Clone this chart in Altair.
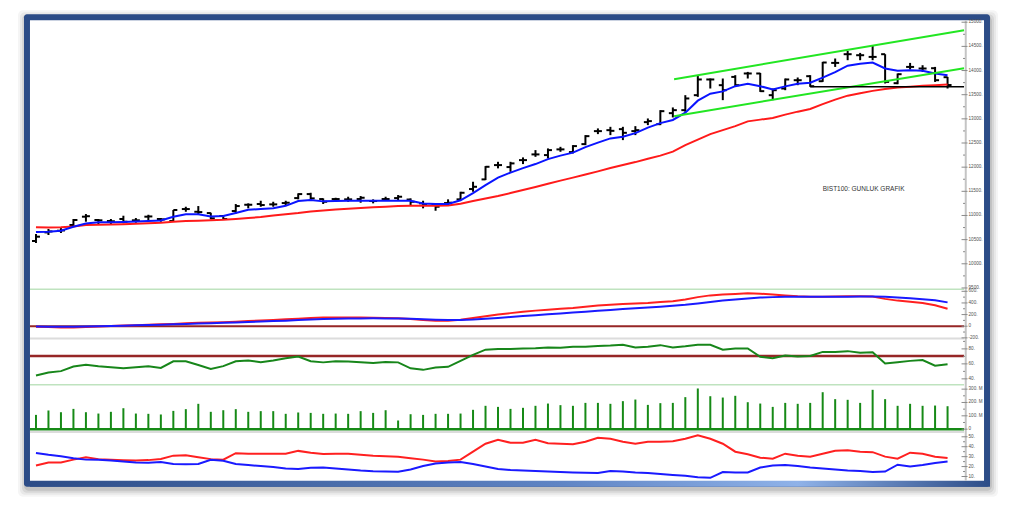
import altair as alt
import pandas as pd

# ---------------- data ----------------
N = 74
idx = list(range(N))

open_ = [10472,10650,10685,10803,10975,10906,10885,10927,10900,10975,
         10927,10885,11133,11077,11050,10989,11092,11222,11237,11230,
         11257,11360,11443,11340,11340,11334,11340,11299,11340,11360,
         11330,11251,11216,11257,11334,11547,11747,12043,12002,12146,
         12264,12250,12368,12312,12477,12746,12766,12787,12746,12932,
         12890,13118,13180,13490,13815,13697,13868,13939,13939,13490,
         13628,13800,13883,13779,14158,14338,14317,14282,14338,13738,
         14075,14042,14048,13862]
high = [10616,10720,10740,10927,11030,10927,10927,10995,10947,11015,
        10947,11113,11181,11195,11057,11009,11237,11251,11305,11284,
        11305,11458,11470,11354,11367,11388,11402,11334,11388,11423,
        11354,11305,11251,11334,11491,11698,12022,12111,12111,12202,
        12353,12388,12421,12456,12663,12802,12835,12835,12849,13008,
        13180,13236,13490,13904,13835,13835,13904,13972,13951,13628,
        13835,13856,13904,14179,14249,14406,14365,14524,14338,13939,
        14158,14110,14075,13868]
low = [10430,10596,10637,10761,10871,10803,10817,10838,10850,10891,
       10871,10871,11077,11009,10920,10920,11044,11148,11181,11181,
       11216,11334,11319,11237,11305,11284,11264,11251,11305,11319,
       11216,11148,11098,11216,11319,11491,11733,11975,11904,12064,
       12214,12181,12318,12285,12456,12684,12663,12560,12663,12870,
       12870,13029,13145,13455,13628,13387,13662,13835,13558,13387,
       13593,13697,13662,13765,14075,14214,14214,14214,13732,13717,
       14021,13972,13765,13628]
close = [10561,10670,10690,10906,10985,10900,10880,10871,10900,10980,
         10920,11113,11133,11070,10941,10927,11195,11222,11216,11230,
         11264,11443,11354,11284,11340,11334,11367,11299,11340,11388,
         11284,11216,11181,11264,11470,11594,12008,12043,12078,12146,
         12264,12353,12368,12436,12642,12746,12752,12711,12766,12953,
         13159,13180,13422,13815,13815,13593,13697,13939,13573,13593,
         13815,13800,13676,14166,14158,14338,14317,14282,13765,13924,
         14075,14042,13800,13700]
ma_fast = [10658,10664,10685,10767,10833,10858,10858,10864,10875,10885,
           10895,10974,11024,11024,10978,10989,11050,11119,11133,11148,
           11200,11299,11319,11292,11299,11303,11305,11305,11305,11305,
           11305,11247,11237,11237,11315,11464,11629,11784,11888,11981,
           12064,12167,12239,12301,12415,12508,12595,12628,12704,12818,
           12911,12977,13128,13376,13521,13569,13676,13728,13676,13608,
           13672,13728,13749,13852,13966,14100,14141,14166,14042,13997,
           14007,13997,13939,13904]
ma_slow = [10755,10749,10757,10771,10802,10808,10813,10819,10829,10840,
           10850,10869,10885,10893,10900,10910,10926,10947,10968,10999,
           11024,11050,11082,11102,11123,11137,11154,11168,11181,11195,
           11201,11201,11201,11206,11245,11299,11352,11402,11464,11526,
           11588,11656,11722,11784,11847,11913,11981,12043,12105,12175,
           12239,12322,12456,12570,12684,12767,12849,12948,12984,13019,
           13087,13149,13205,13304,13397,13480,13531,13579,13618,13647,
           13666,13684,13697,13709]
macd_red = [-7,-15,-20,-20,-15,-5,5,12,18,25,
            32,40,50,58,63,70,78,88,98,108,
            118,130,142,150,152,150,148,145,140,135,
            125,108,95,95,110,140,170,200,225,250,
            268,285,300,315,335,355,370,380,390,400,
            415,430,460,500,530,545,555,565,560,545,
            530,515,505,505,510,515,515,510,470,440,
            420,400,360,300]
macd_blue = [-5,-8,-10,-8,-5,0,5,10,15,20,
             25,32,40,46,52,58,65,72,80,88,
             96,105,115,122,128,132,134,135,134,132,
             128,120,112,108,108,115,128,142,158,175,
             190,205,220,235,250,265,280,295,310,322,
             335,350,368,392,418,440,460,478,492,500,
             505,508,508,508,508,508,510,510,505,495,
             480,465,445,410]
rsi = [44.4,48.5,50.3,56.4,58.7,56.8,55.5,54.3,55.5,56.9,
       54.5,63.5,63.6,58.5,53.3,57,63.5,64.4,62.3,64.5,
       67.6,69.7,63.6,62,63.5,63,62,61,62.5,62,
       54,52,55,56,64,72,79,80,80,80.5,
       81,82,81.5,83,83,84,84.5,85.5,82,83,
       85,82,83.5,85.5,85.5,79,80.5,80.5,69.5,67.5,
       71,70,70.5,76,76,77,75,75.5,60.5,62.3,
       64,65,57.5,59.5]
volume_m = [107,140,127,152,127,117,130,157,117,115,
            110,137,150,190,130,142,150,130,135,135,
            115,125,122,115,117,115,135,122,142,65,
            112,107,115,115,117,145,175,167,152,160,
            175,192,180,175,197,197,190,210,222,182,
            195,197,240,305,247,237,250,202,192,167,
            197,190,197,277,225,220,197,295,225,175,
            190,175,177,172]
dmi_plus = [21,24,24.2,27,29.3,27.5,26.8,26.3,26,26.5,
            27.6,31,31.5,29.5,27.5,27,33.5,33,32.9,32.9,
            32.9,35.8,34,32.6,33,33,32,31,30.5,30,
            28.5,27,25,25.5,27,35,43,47,44,44,
            47,43.5,43,42.5,45,49,48,45,43,45,
            45,45.5,48,51.5,48,43,35,32.5,29,28,
            33,31,30,33,36,36.5,35,34.5,30,28,
            34,33,30,28.6]
dmi_minus = [33.6,31.8,30.3,28.5,27,26.9,26,25,24,23.8,
             24.6,22.5,22.3,22.6,26.9,25.9,22.6,21.5,20.5,19.5,
             18.1,17.5,18.7,19,18,17,16,15.3,15,14.8,
             17,20.5,23,24,24.5,22.5,20,17.5,16.5,16,
             15.5,15,14.5,14,13.7,13.6,15.5,15,14,13.5,
             12.5,11.5,10.7,9.2,8.7,14.5,14,14,19,21,
             21.5,20.5,19,18,17,16,15.5,14.5,15,21.9,
             20.2,21.5,23.5,25.2]

# trend channel (bar index, price) and support level
chan_upper_x = [51.1, 74.32]
chan_upper_y = [13821, 14834]
chan_lower_x = [51.1, 74.32]
chan_lower_y = [13056, 14048]
support_x = [62.0, 74.32]
support_y = [13662, 13662]
rsi_level = 70.5
macd_level = 0

# axis ticks
price_major = [9500,10000,10500,11000,11500,12000,12500,13000,13500,14000,14500,15000]
price_minor = [9750,10250,10750,11250,11750,12250,12750,13250,13750,14250,14750]
macd_major = [-200,0,200,400,600]
macd_minor = [-100,100,300,500]
rsi_major = [40,60,80]
rsi_minor = [50,70,90]
vol_major = [0,100,200,300]
vol_labels = ["0","100. M","200. M","300. M"]
vol_minor = [50,150,250]
dmi_major = [10,20,30,40,50]
dmi_minor = [15,25,35,45]

title_text = "BIST100: GUNLUK GRAFIK"

# ---------------- scales ----------------
XS = alt.Scale(domain=[-0.48, 74.32], range=[22, 957], nice=False, zero=False)
S_PRICE = alt.Scale(domain=[9479, 15041], range=[281, 12], nice=False, zero=False)
S_MACD = alt.Scale(domain=[-201, 623], range=[330, 282], nice=False, zero=False)
S_RSI = alt.Scale(domain=[33.3, 93.3], range=[376, 331], nice=False, zero=False)
S_VOL = alt.Scale(domain=[-20, 332], range=[424, 377], nice=False, zero=False)
S_DMI = alt.Scale(domain=[6.7, 55.0], range=[472, 424], nice=False, zero=False)

def X(f):
    return alt.X(f + ':Q', scale=XS, axis=None)

def Y(f, s):
    return alt.Y(f + ':Q', scale=s, axis=None)

one = pd.DataFrame({'a': [0]})

def box(x1, x2, y1, y2, **kw):
    return alt.Chart(one).mark_rect(**kw).encode(
        x=alt.value(x1), x2=alt.value(x2), y=alt.value(y1), y2=alt.value(y2))

def hline(y, color, w, x1=22, x2=957):
    return alt.Chart(one).mark_rule(color=color, strokeWidth=w).encode(
        x=alt.value(x1), x2=alt.value(x2), y=alt.value(y))

layers = []
# shadow + frame
for k, op in [(7, 0.04), (5, 0.05), (3, 0.07), (1, 0.09)]:
    layers.append(box(16 - k + 1, 983 + k + 1, 6 - k + 3, 479 + k + 3, color='black', opacity=op, cornerRadius=5))
layers.append(box(16, 983, 6, 479, color='#2c4c87', cornerRadius=3))
layers.append(box(22, 983, 472, 479, color=alt.Gradient(
    gradient='linear', x1=0, x2=1, y1=0, y2=0,
    stops=[alt.GradientStop(color='#2c4c87', offset=0),
           alt.GradientStop(color='#5f84c4', offset=0.55),
           alt.GradientStop(color='#8fb2e8', offset=0.8),
           alt.GradientStop(color='#2c4c87', offset=1)])))
layers.append(box(22, 977, 12, 473, color='white'))

# separators
layers.append(hline(281.3, '#bfe3bf', 1.5))
layers.append(hline(330.5, '#dcdcdc', 2))
layers.append(hline(377, '#bfe3bf', 1.5))
layers.append(hline(424.2, '#dcdcdc', 2))

# ---- price panel ----
bars = pd.DataFrame({'i': idx, 'o': open_, 'h': high, 'l': low, 'c': close})
bars['il'] = bars['i'] - 0.32
bars['ir'] = bars['i'] + 0.32
layers.append(alt.Chart(bars).mark_rule(color='black', strokeWidth=2).encode(
    x=X('i'), y=Y('l', S_PRICE), y2='h:Q'))
layers.append(alt.Chart(bars).mark_rule(color='black', strokeWidth=2).encode(
    x=X('il'), x2='i:Q', y=Y('o', S_PRICE)))
layers.append(alt.Chart(bars).mark_rule(color='black', strokeWidth=2).encode(
    x=X('i'), x2='ir:Q', y=Y('c', S_PRICE)))

ma = pd.DataFrame({'i': idx, 'fast': ma_fast, 'slow': ma_slow})
layers.append(alt.Chart(ma).mark_line(color='#ff1a1a', strokeWidth=2).encode(x=X('i'), y=Y('slow', S_PRICE)))
layers.append(alt.Chart(ma).mark_line(color='#0a14ff', strokeWidth=2).encode(x=X('i'), y=Y('fast', S_PRICE)))

for xs, ys, col, w in [(chan_upper_x, chan_upper_y, '#22e622', 2), (chan_lower_x, chan_lower_y, '#22e622', 2),
                       (support_x, support_y, 'black', 1.5)]:
    d = pd.DataFrame({'i': xs, 'p': ys})
    layers.append(alt.Chart(d).mark_line(color=col, strokeWidth=w).encode(x=X('i'), y=Y('p', S_PRICE)))

layers.append(alt.Chart(pd.DataFrame({'i': [63.0], 'p': [11547], 't': [title_text]})).mark_text(
    align='left', baseline='middle', font='Liberation Sans', fontSize=6.5, color='#333333').encode(
    x=X('i'), y=Y('p', S_PRICE), text='t:N'))

# ---- MACD panel ----
md = pd.DataFrame({'i': idx, 'r': macd_red, 'b': macd_blue})
layers.append(alt.Chart(pd.DataFrame({'v': [macd_level]})).mark_rule(color='#962626', strokeWidth=2).encode(
    x=alt.value(22), x2=alt.value(957), y=Y('v', S_MACD)))
layers.append(alt.Chart(md).mark_line(color='#ff2020', strokeWidth=2).encode(x=X('i'), y=Y('r', S_MACD)))
layers.append(alt.Chart(md).mark_line(color='#1a1aff', strokeWidth=2).encode(x=X('i'), y=Y('b', S_MACD)))

# ---- RSI panel ----
rd = pd.DataFrame({'i': idx, 'r': rsi})
layers.append(alt.Chart(pd.DataFrame({'v': [rsi_level]})).mark_rule(color='#962626', strokeWidth=2.5).encode(
    x=alt.value(22), x2=alt.value(957), y=Y('v', S_RSI)))
layers.append(alt.Chart(rd).mark_line(color='#17861a', strokeWidth=2).encode(x=X('i'), y=Y('r', S_RSI)))

# ---- volume panel ----
vd = pd.DataFrame({'i': idx, 'v': volume_m, 'z': [0] * N})
layers.append(alt.Chart(vd).mark_rule(color='#168a16', strokeWidth=2).encode(x=X('i'), y=Y('z', S_VOL), y2='v:Q'))
layers.append(alt.Chart(pd.DataFrame({'v': [0]})).mark_rule(color='#168a16', strokeWidth=2.5).encode(
    x=alt.value(22), x2=alt.value(957), y=Y('v', S_VOL)))

# ---- DMI panel ----
dd = pd.DataFrame({'i': idx, 'p': dmi_plus, 'm': dmi_minus})
layers.append(alt.Chart(dd).mark_line(color='#ff2020', strokeWidth=2).encode(x=X('i'), y=Y('p', S_DMI)))
layers.append(alt.Chart(dd).mark_line(color='#1a1aff', strokeWidth=2).encode(x=X('i'), y=Y('m', S_DMI)))

# ---- right-hand axes ----
layers.append(alt.Chart(one).mark_rule(color='#c4c4c4', strokeWidth=2).encode(
    x=alt.value(958.7), y=alt.value(12), y2=alt.value(473)))

def fmt(v):
    return f"{v}."

def axis(scale, majors, minors, labels=None):
    if labels is None:
        labels = [fmt(v) if v != 0 else "0" for v in majors]
    dm = pd.DataFrame({'v': majors, 't': labels})
    dn = pd.DataFrame({'v': minors})
    out = [
        alt.Chart(dm).mark_rule(color='#8a8a8a', strokeWidth=1).encode(
            x=alt.value(954.5), x2=alt.value(960.5), y=Y('v', scale)),
        alt.Chart(dn).mark_rule(color='#8a8a8a', strokeWidth=1).encode(
            x=alt.value(956), x2=alt.value(958), y=Y('v', scale)),
        alt.Chart(dm).mark_text(align='left', baseline='middle', font='Liberation Sans',
                                fontSize=4.6, color='#505050').encode(
            x=alt.value(961.5), y=Y('v', scale), text='t:N'),
    ]
    return out

layers += axis(S_PRICE, price_major, price_minor)
layers += axis(S_MACD, macd_major, macd_minor)
layers += axis(S_RSI, rsi_major, rsi_minor)
layers += axis(S_VOL, vol_major, vol_minor, vol_labels)
layers += axis(S_DMI, dmi_major, dmi_minor)

chart = alt.layer(*layers).resolve_scale(y='independent').properties(
    width=1000, height=500, padding=0,
    autosize=alt.AutoSizeParams(type='none'),
    background='white'
).configure_view(stroke=None)

chart.save("out.html", embed_options={"renderer": "svg", "actions": False})
